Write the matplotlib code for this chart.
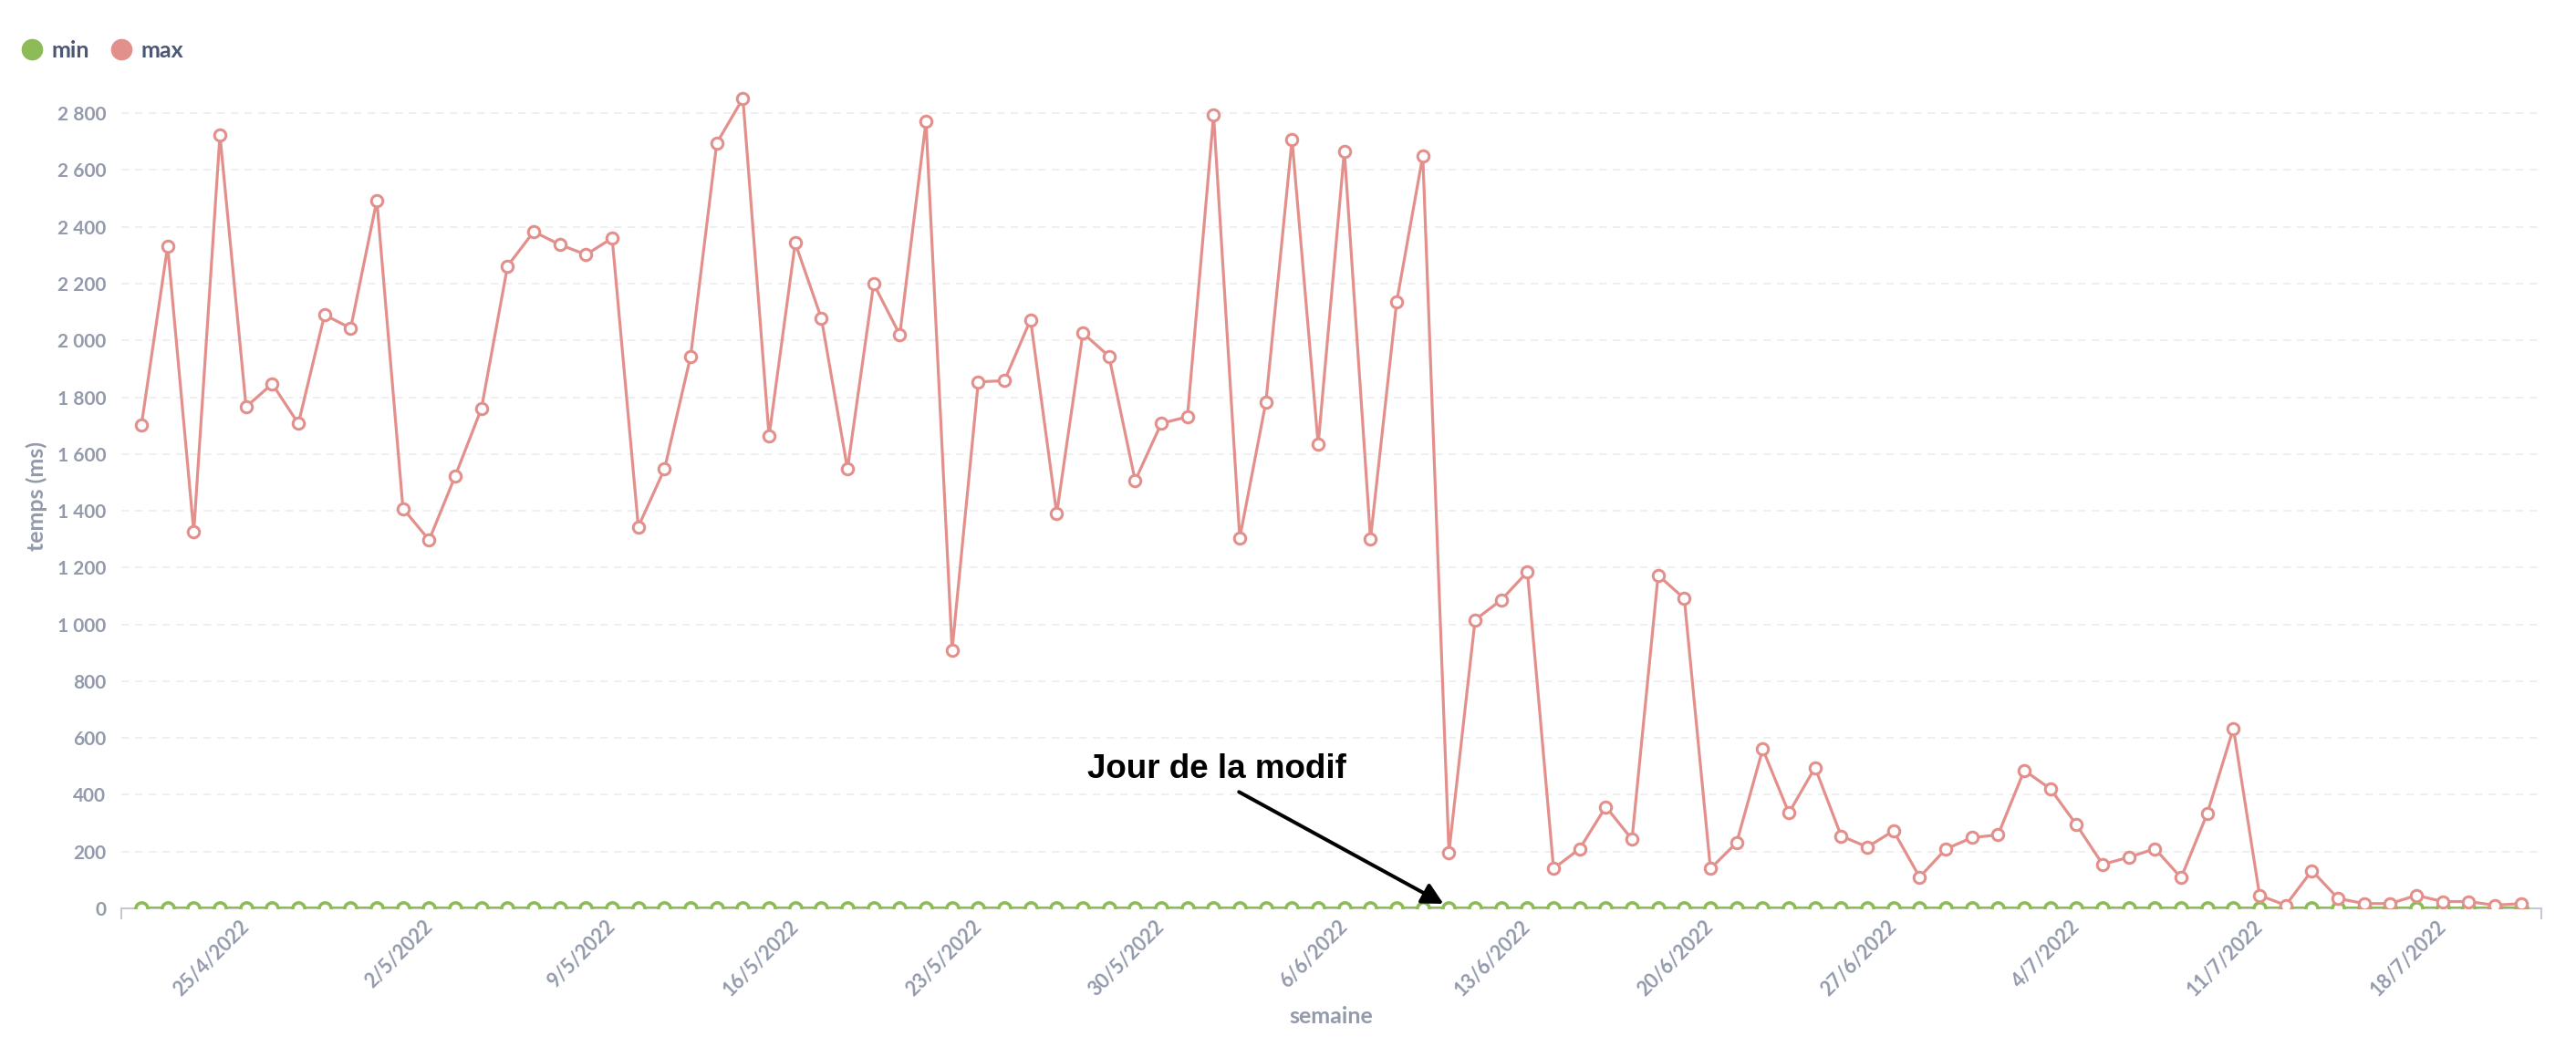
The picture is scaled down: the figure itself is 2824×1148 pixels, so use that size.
import matplotlib
matplotlib.use("Agg")
import matplotlib.pyplot as plt
from matplotlib.lines import Line2D
from matplotlib.ticker import FuncFormatter
import pandas as pd
import datetime as dt

# ---------------- data ----------------
start_date = "2022-04-21"
max_values = [1703, 2332, 1326, 2723, 1766, 1847, 1707, 2090, 2043, 2493,
              1408, 1297, 1523, 1760, 2262, 2383, 2337, 2302, 2360, 1344,
              1547, 1944, 2695, 2852, 1663, 2343, 2078, 1547, 2199, 2020,
              2770, 910, 1854, 1858, 2073, 1390, 2026, 1944, 1506, 1708,
              1731, 2793, 1304, 1783, 2707, 1634, 2667, 1301, 2135, 2650,
              197, 1016, 1086, 1185, 140, 210, 358, 243, 1173, 1091,
              140, 231, 561, 336, 496, 255, 216, 273, 110, 209,
              249, 259, 486, 421, 294, 155, 180, 210, 108, 334,
              634, 46, 11, 133, 35, 17, 17, 46, 24, 24,
              11, 17]
min_values = [0] * len(max_values)
tick_labels = ["25/4/2022", "2/5/2022", "9/5/2022", "16/5/2022", "23/5/2022",
               "30/5/2022", "6/6/2022", "13/6/2022", "20/6/2022", "27/6/2022",
               "4/7/2022", "11/7/2022", "18/7/2022"]
y_ticks = [0, 200, 400, 600, 800, 1000, 1200, 1400, 1600, 1800, 2000,
           2200, 2400, 2600, 2800]
annotation_text = "Jour de la modif"
modif_date = "2022-06-10"

dates = pd.date_range(start_date, periods=len(max_values), freq="D")
tick_dates = [pd.to_datetime(t, format="%d/%m/%Y") for t in tick_labels]

# ---------------- style ----------------
GREEN = "#8DBB57"
PINK = "#E3908C"
GRAY = "#929AAB"
DARK = "#4C5773"
FONT = "Lato"

fig = plt.figure(figsize=(28.24, 11.48), dpi=100)
ax = fig.add_axes([0.0471, 0.1324, 0.9394, 0.7866])

ax.plot(dates, min_values, color=GREEN, lw=3.6, marker="o", ms=9.5,
        mfc="white", mec=GREEN, mew=2.6, zorder=3)
ax.plot(dates, max_values, color=PINK, lw=2.3, marker="o", ms=9.0,
        mfc="white", mec=PINK, mew=2.2, zorder=4)

half = dt.timedelta(hours=18.5)
ax.set_xlim(dates[0] - half, dates[-1] + half)
ax.set_ylim(0, 2900)

ax.set_yticks(y_ticks)
ax.yaxis.set_major_formatter(FuncFormatter(lambda v, p: f"{v:,.0f}".replace(",", " ")))
ax.set_xticks(tick_dates)
ax.set_xticklabels(tick_labels)

for lab in ax.get_yticklabels():
    lab.set_fontfamily(FONT)
    lab.set_fontweight("bold")
    lab.set_fontsize(15)
    lab.set_color(GRAY)
for lab in ax.get_xticklabels():
    lab.set_fontfamily(FONT)
    lab.set_fontweight("bold")
    lab.set_fontsize(15.5)
    lab.set_color(GRAY)
    lab.set_rotation(45)
    lab.set_ha("right")
    lab.set_va("center")
    lab.set_rotation_mode("anchor")

ax.tick_params(axis="y", length=0, pad=12)
ax.tick_params(axis="x", length=0, pad=12)

ax.grid(axis="y", color="#ECECEC", lw=1.2, linestyle=(0, (5, 4)), zorder=0)
ax.set_axisbelow(True)
for s in ["top", "right", "left"]:
    ax.spines[s].set_visible(False)
ax.spines["bottom"].set_color("#C5C8D0")
ax.spines["bottom"].set_linewidth(1.5)
for xa in (0, 1):
    ax.plot([xa, xa], [0, -0.012], transform=ax.transAxes, color="#C5C8D0",
            lw=1.5, clip_on=False)

ax.set_xlabel("semaine", fontfamily=FONT, fontweight="bold", fontsize=18,
              color=GRAY)
ax.set_ylabel("temps (ms)", fontfamily=FONT, fontweight="bold", fontsize=18,
              color=GRAY)
ax.xaxis.set_label_coords(0.5, -0.118)
ax.yaxis.set_label_coords(-0.0305, 0.5)

# annotation
mdate = pd.to_datetime(modif_date)
ax.text(mdate - dt.timedelta(days=8.87), 459, annotation_text,
        fontfamily="Liberation Sans", fontweight="bold", fontsize=26.5,
        color="black", ha="center", va="baseline", zorder=6)
ax.annotate("", xy=(mdate - dt.timedelta(hours=5), 16),
            xytext=(mdate - dt.timedelta(days=8.03), 410),
            arrowprops=dict(arrowstyle="-|>,head_length=0.46,head_width=0.24",
                            color="black", lw=2.9,
                            mutation_scale=30, shrinkA=0, shrinkB=0),
            zorder=6)

# legend
handles = [Line2D([], [], marker="o", ls="none", ms=16, mfc=GREEN, mec=GREEN),
           Line2D([], [], marker="o", ls="none", ms=16, mfc=PINK, mec=PINK)]
leg = fig.legend(handles, ["min", "max"], loc="center left",
                 bbox_to_anchor=(0.0, 0.952), ncol=2, frameon=False,
                 handletextpad=0.35, columnspacing=0.9, handlelength=1.0,
                 prop={"family": FONT, "weight": "bold", "size": 18})
for t in leg.get_texts():
    t.set_color(DARK)

fig.savefig("out.png", dpi=100)
